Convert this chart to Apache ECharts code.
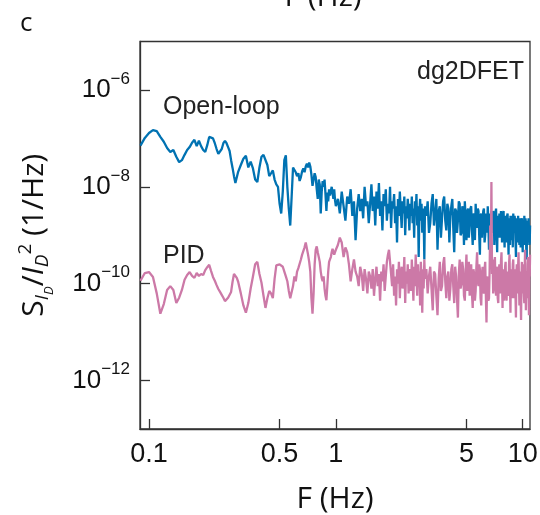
<!DOCTYPE html>
<html>
<head>
<meta charset="utf-8">
<script src="https://cdn.jsdelivr.net/npm/echarts@6/dist/echarts.min.js"></script>
<style>
html,body{margin:0;padding:0;background:#fff;}
#chart{width:540px;height:515px;}
</style>
</head>
<body>
<div id="chart"></div>
<script>
// Frequencies (Hz), in four bands of the spectrum
var freqLow = [0.090,0.095,0.100,0.105,0.110,0.115,0.120,0.125,0.130,0.135,0.140,0.145,0.150,0.155,0.160,0.165,0.170,0.175,0.180,0.185,0.190,0.195,0.200,0.205,0.210,0.215,0.220,0.225,0.230,0.235,0.240,0.245,0.250,0.255,0.260,0.265,0.270,0.275,0.280,0.285,0.290,0.295,0.300];
var freqMid = [0.31,0.32,0.33,0.34,0.35,0.36,0.37,0.38,0.39,0.40,0.41,0.42,0.43,0.44,0.45,0.46,0.47,0.48,0.49,0.50,0.51,0.52,0.53,0.54,0.55,0.56,0.57,0.58,0.59,0.60,0.61,0.62,0.63,0.64,0.65,0.66,0.67,0.68,0.69,0.70,0.71,0.72,0.73,0.74,0.75,0.76,0.77,0.78,0.79,0.80,0.81,0.82,0.83,0.84,0.85,0.86,0.87,0.88,0.89,0.90,0.91,0.92,0.93,0.94,0.95,0.96,0.97,0.98,0.99,1.00];
var freqHigh = [1.025,1.05,1.075,1.1,1.125,1.15,1.175,1.2,1.225,1.25,1.275,1.3,1.325,1.35,1.375,1.4,1.425,1.45,1.475,1.5,1.525,1.55,1.575,1.6,1.625,1.65,1.675,1.7,1.725,1.75,1.775,1.8,1.825,1.85,1.875,1.9,1.925,1.95,1.975,2.0,2.025,2.05,2.075,2.1,2.125,2.15,2.175,2.2,2.225,2.25,2.275,2.3,2.325,2.35,2.375,2.4,2.425,2.45,2.475,2.5,2.525,2.55,2.575,2.6,2.625,2.65,2.675,2.7,2.725,2.75,2.775,2.8,2.825,2.85,2.875,2.9,2.925,2.95,2.975,3.0];
var freqTop = [3.05,3.1,3.15,3.2,3.25,3.3,3.35,3.4,3.45,3.5,3.55,3.6,3.65,3.7,3.75,3.8,3.85,3.9,3.95,4.0,
  4.05,4.1,4.15,4.2,4.25,4.3,4.35,4.4,4.45,4.5,4.55,4.6,4.65,4.7,4.75,4.8,4.85,4.9,4.95,5.0,
  5.05,5.1,5.15,5.2,5.25,5.3,5.35,5.4,5.45,5.5,5.55,5.6,5.65,5.7,5.75,5.8,5.85,5.9,5.95,6.0,
  6.05,6.1,6.15,6.2,6.25,6.3,6.35,6.4,6.45,6.5,6.55,6.6,6.65,6.7,6.75,6.8,6.85,6.9,6.95,7.0,
  7.05,7.1,7.15,7.2,7.25,7.3,7.35,7.4,7.45,7.5,7.55,7.6,7.65,7.7,7.75,7.8,7.85,7.9,7.95,8.0,
  8.05,8.1,8.15,8.2,8.25,8.3,8.35,8.4,8.45,8.5,8.55,8.6,8.65,8.7,8.75,8.8,8.85,8.9,8.95,9.0,
  9.05,9.1,9.15,9.2,9.25,9.3,9.35,9.4,9.45,9.5,9.55,9.6,9.65,9.7,9.75,9.8,9.85,9.9,9.95,10.0,
  10.05,10.1,10.15,10.2,10.25,10.3,10.35,10.4,10.45,10.5,10.55,10.6,10.65,10.7,10.75,10.8,10.85,10.9,10.95];

// log10 of S_ID/ID^2 (1/Hz), Open-loop
var openLoopLow = [-7.15,-6.99,-6.89,-6.83,-6.85,-6.97,-7.07,-7.20,-7.28,-7.24,-7.38,-7.49,-7.45,-7.34,-7.24,-7.18,-7.09,-7.03,-7.16,-7.05,-7.16,-7.24,-7.28,-7.14,-6.97,-6.97,-7.00,-7.10,-7.22,-7.32,-7.36,-7.22,-7.10,-7.05,-7.10,-7.18,-7.26,-7.45,-7.61,-7.78,-7.92,-7.96,-7.69];
var openLoopMid = [-7.55,-7.42,-7.36,-7.60,-7.48,-7.62,-7.85,-7.90,-7.60,-7.38,-7.34,-7.32,-7.55,-7.78,-7.72,-7.66,-7.85,-7.95,-8.00,-8.35,-8.55,-8.10,-7.45,-7.35,-8.00,-8.45,-8.80,-8.20,-7.60,-7.62,-7.70,-7.78,-7.72,-7.88,-7.80,-7.68,-7.62,-7.70,-7.58,-7.52,-7.60,-7.50,-7.58,-7.75,-7.98,-7.85,-7.72,-7.80,-8.05,-8.25,-7.85,-7.95,-8.55,-8.10,-7.88,-8.00,-7.85,-8.15,-8.50,-8.12,-8.30,-8.05,-8.18,-8.22,-8.00,-8.12,-8.25,-8.05,-8.28,-8.40];
var openLoopHigh = [-8.25,-8.55,-8.10,-8.40,-8.70,-8.20,-8.35,-8.05,-8.60,-8.30,-9.10,-8.45,-8.15,-8.50,-8.25,-8.65,-8.00,-8.40,-8.30,-8.75,-8.35,-7.95,-8.50,-8.20,-8.80,-8.10,-8.45,-7.92,-8.60,-8.30,-8.90,-8.15,-8.40,-8.05,-8.70,-8.35,-8.55,-8.00,-8.85,-8.30,-8.45,-8.15,-8.75,-8.40,-9.15,-8.25,-8.60,-8.10,-8.50,-8.85,-8.30,-8.55,-8.20,-9.00,-8.40,-8.65,-8.25,-8.50,-8.90,-8.35,-8.60,-8.20,-8.75,-8.45,-9.05,-8.30,-8.55,-8.15,-8.80,-8.40,-9.45,-8.50,-8.25,-8.70,-8.35,-8.95,-8.45,-8.60,-9.50,-8.40];
var openLoopTop = [-8.60,-8.30,-8.95,-8.75,-8.35,-8.15,-8.80,-8.55,-8.25,-9.30,-8.50,-8.40,-9.05,-8.65,-8.30,-8.20,-8.70,-8.90,-8.35,-8.45,
  -9.15,-8.60,-8.40,-8.25,-8.85,-9.35,-8.45,-8.50,-8.95,-8.70,-8.30,-8.35,-9.00,-8.95,-8.40,-8.55,-9.20,-8.30,-8.65,-9.10,
  -8.50,-8.45,-9.05,-8.75,-8.45,-8.40,-8.90,-9.20,-8.55,-8.60,-9.10,-8.35,-8.70,-8.85,-8.45,-8.50,-9.00,-9.40,-8.60,-8.55,
  -9.05,-8.70,-8.50,-8.45,-9.15,-9.00,-8.55,-8.60,-8.95,-8.40,-8.75,-9.30,-8.55,-8.65,-9.10,-8.50,-8.80,-8.95,-8.50,-8.55,
  -9.20,-8.80,-8.55,-8.45,-8.95,-9.35,-8.60,-8.70,-9.05,-8.55,-8.85,-9.05,-8.50,-8.60,-9.15,-8.85,-8.55,-8.50,-8.95,-9.25,
  -8.60,-8.65,-9.15,-8.90,-8.60,-8.55,-9.00,-9.40,-8.65,-8.75,-9.20,-8.60,-8.85,-9.10,-8.60,-8.70,-9.25,-8.55,-8.80,-8.95,
  -8.60,-8.70,-9.10,-9.45,-8.70,-8.65,-9.15,-8.85,-8.60,-8.60,-9.05,-9.20,-8.65,-8.75,-9.25,-8.95,-8.70,-8.65,-9.10,-9.35,
  -8.70,-8.80,-9.20,-8.60,-8.90,-9.05,-8.65,-8.75,-9.30,-9.50,-8.75,-8.70,-9.15,-8.90,-8.65,-8.65,-9.20,-9.15,-8.80];

// log10 of S_ID/ID^2 (1/Hz), PID
var pidLow = [-9.94,-9.78,-9.76,-9.86,-10.20,-10.62,-10.42,-10.13,-10.05,-10.13,-10.40,-10.29,-10.13,-9.92,-9.82,-9.76,-9.84,-9.88,-9.78,-9.84,-9.80,-9.82,-9.72,-9.66,-9.61,-9.74,-9.86,-9.94,-10.03,-10.11,-10.17,-10.23,-10.29,-10.36,-10.38,-10.29,-10.31,-10.17,-9.96,-9.80,-9.76,-9.88,-9.96];
var pidMid = [-10.20,-10.45,-10.60,-10.40,-10.10,-9.85,-9.60,-9.55,-9.80,-9.98,-10.25,-10.50,-10.30,-10.15,-10.20,-10.30,-9.90,-9.62,-9.58,-9.60,-9.57,-9.65,-9.75,-9.85,-9.95,-10.15,-10.30,-10.34,-10.05,-9.85,-9.95,-9.75,-9.68,-9.64,-9.50,-9.40,-9.37,-9.25,-9.15,-9.13,-9.40,-9.55,-9.75,-10.30,-10.62,-10.20,-9.60,-9.30,-9.23,-9.35,-9.45,-9.55,-9.75,-9.88,-9.95,-9.85,-10.10,-10.25,-10.34,-10.05,-9.75,-9.55,-9.50,-9.45,-9.35,-9.28,-9.30,-9.40,-9.35,-9.30];
var pidHigh = [-9.20,-9.05,-9.15,-9.45,-9.25,-9.35,-9.60,-9.95,-9.70,-9.50,-9.75,-9.85,-10.05,-9.65,-9.80,-10.15,-9.70,-9.90,-10.20,-9.75,-9.85,-10.10,-9.70,-10.25,-9.90,-9.65,-10.05,-9.80,-10.35,-9.75,-9.95,-9.60,-10.15,-9.85,-9.55,-9.40,-9.30,-9.55,-9.80,-10.05,-9.60,-10.25,-9.85,-10.45,-9.70,-10.00,-9.55,-10.30,-9.80,-9.65,-10.10,-9.90,-9.45,-10.40,-9.75,-10.00,-9.60,-10.20,-9.85,-9.70,-10.15,-9.50,-9.90,-10.35,-9.65,-10.05,-9.40,-9.85,-10.25,-9.60,-10.00,-9.75,-10.45,-9.55,-9.95,-10.60,-9.70,-10.10,-9.50,-9.90];
var pidTop = [-9.70,-10.20,-9.85,-9.65,-10.10,-10.55,-9.75,-9.80,-10.25,-10.65,-9.90,-9.55,-10.15,-10.05,-9.60,-9.45,-9.95,-10.30,-9.85,-9.75,
  -10.35,-10.10,-9.70,-9.60,-10.05,-10.40,-9.65,-9.85,-10.30,-10.70,-9.80,-9.50,-10.10,-10.00,-9.55,-9.70,-10.25,-10.35,-9.75,-9.40,
  -10.15,-9.90,-9.55,-10.25,-9.85,-9.60,-10.20,-10.50,-9.70,-9.80,-10.35,-10.15,-9.65,-9.35,-9.95,-10.05,-9.60,-9.70,-10.30,-10.45,
  -9.80,-9.65,-10.15,-10.20,-9.70,-9.55,-10.25,-10.80,-9.90,-9.85,-10.35,-10.30,-9.75,-8.80,-9.70,-7.90,-9.80,-9.50,-10.20,-10.05,
  -9.60,-9.45,-10.05,-10.25,-9.65,-9.70,-10.30,-10.40,-9.75,-9.60,-10.20,-10.10,-9.55,-9.35,-9.95,-10.50,-9.70,-9.80,-10.35,-10.00,
  -9.65,-9.55,-10.10,-10.35,-9.80,-9.75,-10.25,-10.15,-9.60,-9.40,-10.05,-10.60,-9.70,-9.85,-10.30,-10.05,-9.60,-9.50,-10.15,-10.30,
  -9.75,-9.70,-10.25,-10.70,-9.80,-9.60,-10.10,-10.20,-9.65,-9.35,-9.95,-10.45,-9.75,-9.80,-10.35,-10.75,-9.85,-9.55,-10.20,-10.10,
  -9.60,-9.65,-10.25,-10.40,-9.70,-9.30,-9.95,-10.55,-9.85,-9.75,-10.30,-10.20,-9.60,-9.45,-10.15,-10.65,-9.80,-9.85,-9.40];

// Tick values
var xTicks = [0.1, 0.5, 1, 5, 10];
var yTicks = [1e-12, 1e-10, 1e-8, 1e-6];

var freqs = freqLow.concat(freqMid, freqHigh, freqTop);
var openLoopLog = openLoopLow.concat(openLoopMid, openLoopHigh, openLoopTop);
var pidLog = pidLow.concat(pidMid, pidHigh, pidTop);

function pairs(logs) {
  return freqs.map(function (f, i) { return [f, Math.pow(10, logs[i])]; });
}

var chart = echarts.init(document.getElementById('chart'), null, {renderer: 'canvas'});
var axisColor = '#333';
var ink = '#111';
var option = {
  animation: false,
  grid: {left: 140, top: 41.5, right: 10, bottom: 86, show: true, borderColor: axisColor, borderWidth: 1.3,
    containLabel: false, outerBoundsMode: 'none'},
  xAxis: {
    type: 'log', logBase: 10, min: 0.0895, max: 10.94,
    axisLine: {show: true, lineStyle: {color: axisColor, width: 1.3}},
    axisTick: {show: true, inside: true, length: 10, customValues: xTicks, lineStyle: {color: axisColor, width: 1.3}},
    axisLabel: {customValues: xTicks, margin: 12, fontSize: 27, color: ink, fontFamily: 'Liberation Sans',
      formatter: function (v) { return String(+(+v).toPrecision(3)); }},
    splitLine: {show: false}, minorTick: {show: false},
    name: 'F (Hz)', nameLocation: 'middle', nameGap: 55,
    nameTextStyle: {fontSize: 30, color: ink, fontFamily: 'Open Sans'}
  },
  yAxis: {
    type: 'log', logBase: 10, min: 1e-13, max: 1e-5,
    axisLine: {show: true, lineStyle: {color: axisColor, width: 1.3}},
    axisTick: {show: true, inside: true, length: 10, customValues: yTicks, lineStyle: {color: axisColor, width: 1.3}},
    axisLabel: {customValues: yTicks, margin: 10, color: ink,
      formatter: function (v) { var e = Math.round(Math.log10(v)); return '{b|10}{s|\u2212' + (-e) + '}'; },
      rich: {
        b: {fontSize: 26, fontFamily: 'Liberation Sans', color: ink},
        s: {fontSize: 17, fontFamily: 'Liberation Sans', color: ink, padding: [0, 0, 22, 0]}
      }
    },
    splitLine: {show: false}, minorTick: {show: false},
    name: '{n|S}{a|I}{b|D}{n|/}{ni|I}{c|D}{d|2}{n| (1/Hz)}',
    nameLocation: 'middle', nameRotate: 90, nameGap: 84,
    nameTextStyle: {
      color: ink,
      rich: {
        n: {fontSize: 30, fontFamily: 'Open Sans', color: ink},
        ni: {fontSize: 30, fontFamily: 'Open Sans', fontStyle: 'italic', color: ink},
        a: {fontSize: 19, fontFamily: 'Open Sans', fontStyle: 'italic', color: ink, padding: [16, 0, 0, 0]},
        b: {fontSize: 13, fontFamily: 'Open Sans', fontStyle: 'italic', color: ink, padding: [30, 0, 0, 0]},
        c: {fontSize: 19, fontFamily: 'Open Sans', fontStyle: 'italic', color: ink, padding: [16, 0, 0, 0]},
        d: {fontSize: 19, fontFamily: 'Open Sans', color: ink, padding: [0, 0, 18, 0]}
      }
    }
  },
  series: [
    {name: 'Open-loop', type: 'line', data: pairs(openLoopLog), showSymbol: false, symbol: 'none',
      lineStyle: {color: '#0072B2', width: 2.3}, itemStyle: {color: '#0072B2'}, clip: true},
    {name: 'PID', type: 'line', data: pairs(pidLog), showSymbol: false, symbol: 'none',
      lineStyle: {color: '#CC79A7', width: 2.3}, itemStyle: {color: '#CC79A7'}, clip: true}
  ],
  graphic: [
    {type: 'text', left: 20, top: 11, style: {text: 'c', fontSize: 26, fontFamily: 'Open Sans', fill: ink}},
    {type: 'text', x: 323, y: -3, style: {text: 'F (Hz)', fontSize: 30, fontFamily: 'Open Sans', fill: ink, align: 'center', verticalAlign: 'middle'}},
    {type: 'text', x: 524, y: 72, style: {text: 'dg2DFET', fontSize: 25, fontFamily: 'Liberation Sans', fill: '#222', align: 'right', verticalAlign: 'middle'}},
    {type: 'text', x: 163, y: 107, style: {text: 'Open-loop', fontSize: 25, fontFamily: 'Liberation Sans', fill: '#222', align: 'left', verticalAlign: 'middle'}},
    {type: 'text', x: 163, y: 256, style: {text: 'PID', fontSize: 25, fontFamily: 'Liberation Sans', fill: '#222', align: 'left', verticalAlign: 'middle'}}
  ]
};
chart.setOption(option);
</script>
</body>
</html>
